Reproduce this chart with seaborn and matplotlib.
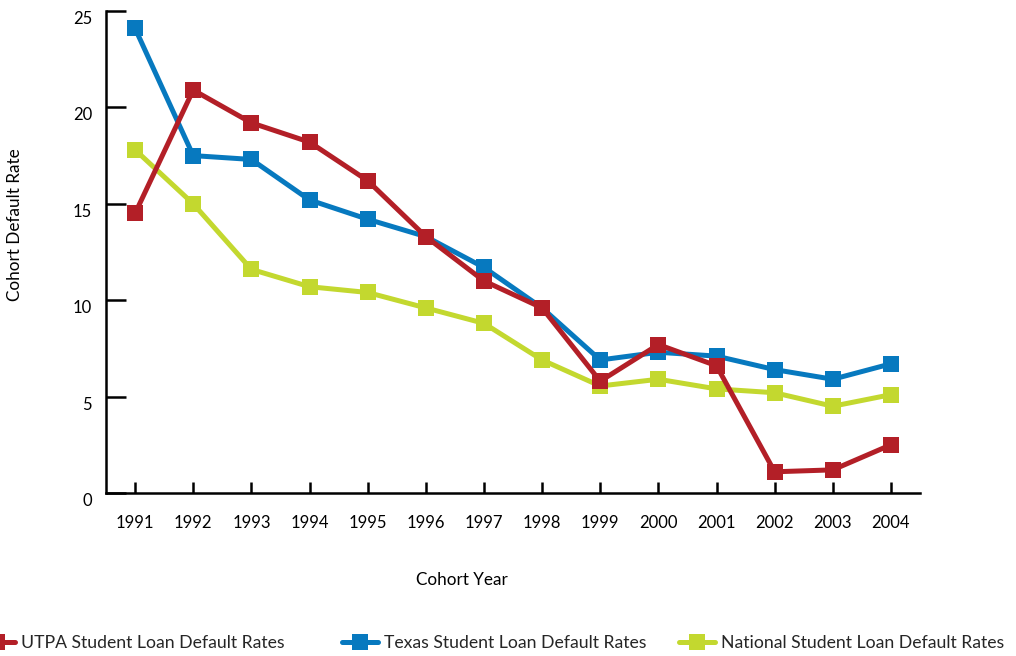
import matplotlib
matplotlib.use("Agg")
import matplotlib.pyplot as plt
from matplotlib.lines import Line2D
import seaborn as sns
import pandas as pd

# Cohort default rates (%) by cohort year
years = list(range(1991, 2005))
utpa = [14.5, 20.9, 19.2, 18.2, 16.2, 13.3, 11.0, 9.6, 5.8, 7.7, 6.6, 1.1, 1.2, 2.5]
texas = [24.1, 17.5, 17.3, 15.2, 14.2, 13.3, 11.7, 9.6, 6.9, 7.3, 7.1, 6.4, 5.9, 6.7]
national = [17.8, 15.0, 11.6, 10.7, 10.4, 9.6, 8.8, 6.9, 5.55, 5.9, 5.4, 5.2, 4.5, 5.1]

series_names = [
    "UTPA Student Loan Default Rates",
    "Texas Student Loan Default Rates",
    "National Student Loan Default Rates",
]
series_colors = ["#B31F27", "#0779BF", "#C3D82F"]
y_ticks = [0, 5, 10, 15, 20, 25]

df = pd.concat(
    [
        pd.DataFrame({"year": years, "rate": vals, "series": name})
        for name, vals in zip(series_names, [utpa, texas, national])
    ],
    ignore_index=True,
)

sns.set_theme(style="white")
plt.rcParams["font.family"] = ["Lato", "DejaVu Sans"]

fig = plt.figure(figsize=(10.16, 6.56), dpi=100)
ax = fig.add_axes([106 / 1016, 1 - 493 / 656, 814 / 1016, 482 / 656])

palette = dict(zip(series_names, series_colors))
draw_order = series_names[::-1]  # UTPA drawn last, on top
sns.lineplot(
    data=df, x="year", y="rate", hue="series", hue_order=draw_order,
    palette=palette, style="series", style_order=draw_order,
    markers={n: "s" for n in series_names}, dashes=False,
    linewidth=3.6, markersize=11, markeredgewidth=0,
    legend=False, ax=ax,
)

ax.set_xlim(1990.5, 2004.5)
ax.set_ylim(0, 25)
ax.set_xticks(years)
ax.set_xticklabels([str(y) for y in years])
ax.set_yticks(y_ticks)
ax.set_yticklabels([str(t) for t in y_ticks])

for side in ["top", "right"]:
    ax.spines[side].set_visible(False)
for side in ["left", "bottom"]:
    ax.spines[side].set_color("black")
    ax.spines[side].set_linewidth(1.8)

ax.tick_params(axis="y", direction="in", length=14.4, width=1.8, color="black",
               pad=10, labelsize=12, labelcolor="black", left=True)
ax.tick_params(axis="x", direction="in", length=8, width=1.8, color="black",
               pad=16, labelsize=12, labelcolor="black", bottom=True)
for lbl in ax.get_yticklabels():
    lbl.set_va("top")

ax.set_xlabel("Cohort Year", fontsize=12.3, color="black", va="center", ha="center")
ax.xaxis.set_label_coords((462 - 106) / 814, (493 - 580) / 482)
ax.set_ylabel("Cohort Default Rate", fontsize=12.3, color="black", va="center", ha="center")
ax.yaxis.set_label_coords((15.5 - 106) / 814, (493 - 225) / 482)

# Legend entries laid out along the bottom edge
legend_size = 12.7
handle_len = 36 / (legend_size * 100 / 72)
gap = 6 / (legend_size * 100 / 72)
anchors_px = [-21, 342, 679]
for name, color, x_px in zip(series_names, series_colors, anchors_px):
    h = Line2D([], [], color=color, linewidth=3.6, marker="s",
               markersize=11, markeredgewidth=0)
    fig.legend([h], [name], loc="center left",
               bbox_to_anchor=(x_px / 1016, 1 - 643 / 656),
               frameon=False, fontsize=legend_size, handlelength=handle_len,
               handletextpad=gap, borderpad=0, borderaxespad=0)

fig.savefig("out.png", dpi=100, facecolor="white")
